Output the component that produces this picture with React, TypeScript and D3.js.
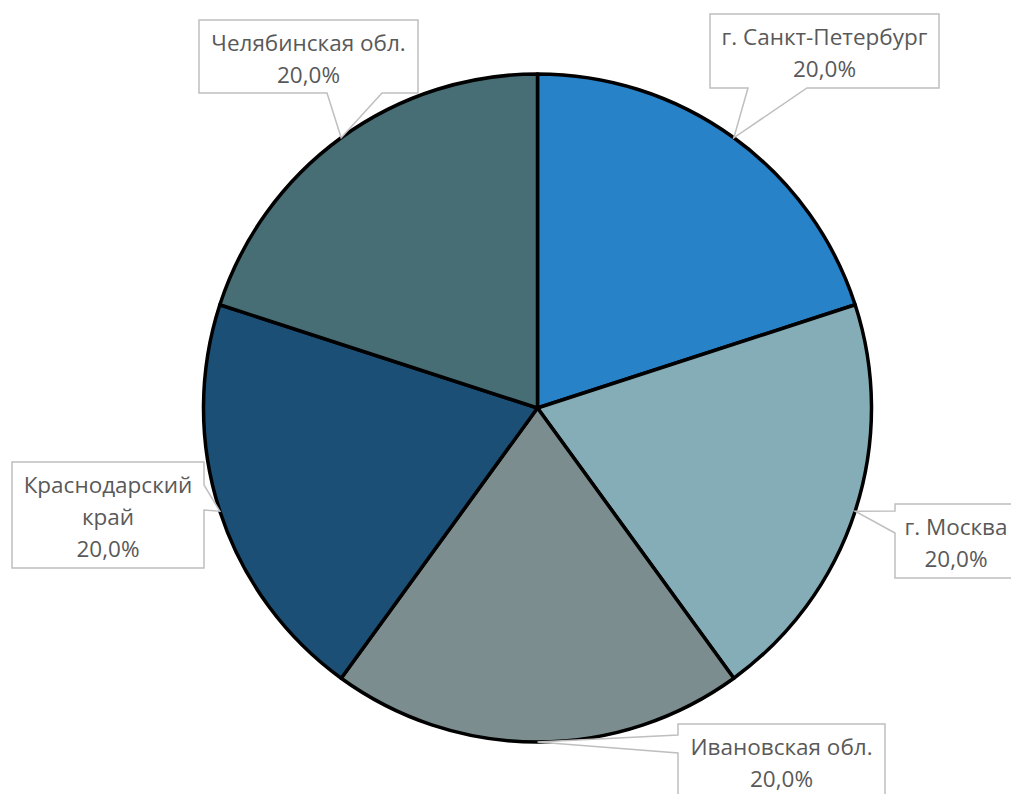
import React from "react";
import * as d3 from "d3";

const categories = [
  "г. Санкт-Петербург",
  "г. Москва",
  "Ивановская обл.",
  "Краснодарский край",
  "Челябинская обл.",
];
const values = [20, 20, 20, 20, 20];
const colors = ["#2882C8", "#85ADB7", "#7B8D8E", "#1B4F76", "#476D75"];
const labelLines = [
  ["г. Санкт-Петербург", "20,0%"],
  ["г. Москва", "20,0%"],
  ["Ивановская обл.", "20,0%"],
  ["Краснодарский", "край", "20,0%"],
  ["Челябинская обл.", "20,0%"],
];

// callout layout: box and where the tail leaves the box
const callouts = [
  { x: 710, y: 14, w: 229, h: 74, side: "bottom", a: 748, b: 807 },
  { x: 895, y: 504, w: 122, h: 74, side: "left", a: 511, b: 533 },
  { x: 678, y: 724, w: 207, h: 74, side: "left", a: 735, b: 753 },
  { x: 12, y: 462, w: 192, h: 106, side: "right", a: 485, b: 510 },
  { x: 199, y: 20, w: 219, h: 73, side: "bottom", a: 327, b: 382 },
];

const W = 1011;
const H = 794;
const cx = 537.5;
const cy = 408;
const R = 334;

function calloutPath(c: any, px: number, py: number) {
  const { x, y, w, h } = c;
  const x2 = x + w;
  const y2 = y + h;
  if (c.side === "bottom") {
    return `M${x},${y}H${x2}V${y2}H${c.b}L${px},${py}L${c.a},${y2}H${x}Z`;
  }
  if (c.side === "left") {
    return `M${x},${y}H${x2}V${y2}H${x}V${c.b}L${px},${py}L${x},${c.a}Z`;
  }
  return `M${x},${y}H${x2}V${c.a}L${px},${py}L${x2},${c.b}V${y2}H${x}Z`;
}

export default function App() {
  const pie = d3
    .pie<number>()
    .sort(null)
    .startAngle(0)
    .endAngle(2 * Math.PI)
    .value((d) => d);
  const arcs = pie(values);
  const arc = d3.arc<d3.PieArcDatum<number>>().innerRadius(0).outerRadius(R);

  return (
    <svg
      width={W}
      height={H}
      style={{ position: "absolute", left: 0, top: 0, background: "#fff" }}
      fontFamily="'Open Sans', sans-serif"
    >
      <g transform={`translate(${cx},${cy})`}>
        {arcs.map((a, i) => (
          <path
            key={categories[i]}
            d={arc(a) as string}
            fill={colors[i]}
            stroke="#000"
            strokeWidth={3.5}
            strokeLinejoin="round"
          />
        ))}
      </g>
      {arcs.map((a, i) => {
        const mid = (a.startAngle + a.endAngle) / 2;
        const px = cx + R * Math.sin(mid);
        const py = cy - R * Math.cos(mid);
        const c = callouts[i];
        const lines = labelLines[i];
        const tx = c.x + c.w / 2;
        return (
          <g key={"l" + i}>
            <path
              d={calloutPath(c, px, py)}
              fill="#fff"
              stroke="#BFBFBF"
              strokeWidth={1.5}
            />
            {lines.map((t, j) => (
              <text
                key={j}
                x={tx}
                y={c.y + 31 + j * 32}
                textAnchor="middle"
                fontSize={22.5}
                fill="#595959"
              >
                {t}
              </text>
            ))}
          </g>
        );
      })}
    </svg>
  );
}
